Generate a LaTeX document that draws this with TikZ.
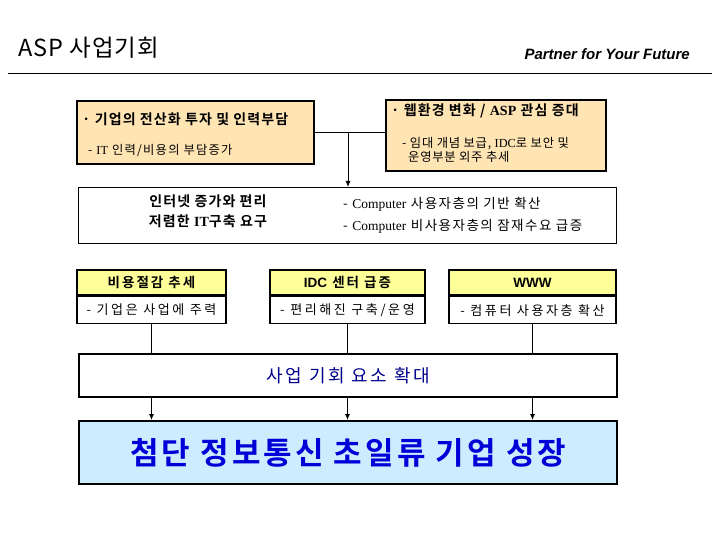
\documentclass[tikz,border=0pt]{standalone}
\usepackage{fontspec}
\setmainfont{Noto Sans CJK KR}[BoldFont={Noto Sans CJK KR Bold}]
\newfontfamily\serifpart{Liberation Serif}
\newfontfamily\arialpart{Liberation Sans}
\newcommand{\krsize}[2]{\fontsize{#1}{#1}\selectfont\addfontfeature{LetterSpace=#2}}
\definecolor{asppeach}{RGB}{255,228,180}
\definecolor{aspyellow}{RGB}{255,255,153}
\definecolor{aspsky}{RGB}{204,236,255}
\definecolor{aspnavy}{RGB}{0,0,140}
\definecolor{aspblue}{RGB}{0,0,215}
\usetikzlibrary{positioning, arrows.meta}

\tikzset{
  issuebox/.style={draw, line width=2.4pt, fill=asppeach, anchor=north west},
  infobox/.style={draw, line width=0.8pt, fill=white, anchor=north west},
  trendhead/.style={draw, line width=1.6pt, fill=aspyellow, minimum width=149pt, minimum height=25pt,
    font={\bfseries\krsize{13.5}{15}}},
  trendbody/.style={draw, line width=1.6pt, fill=white, minimum width=149pt, minimum height=27pt,
    font={\krsize{13}{20}}},
  bigbox/.style={draw, line width=2.4pt, anchor=north west, minimum width=538pt},
  link/.style={line width=0.7pt},
  arrowlink/.style={line width=0.9pt, -{Latex[length=6pt,width=5pt]}}
}

\begin{document}
\begin{tikzpicture}[x=1pt, y=-1pt, every node/.style={inner sep=0pt}]
  \useasboundingbox (0,0) rectangle (720,540);

  % header
  \node[anchor=base west, font={\krsize{23.5}{4}}] (title) at (18,57) {ASP 사업기회};
  \node[anchor=base east, font=\arialpart\bfseries\itshape\fontsize{15}{17}\selectfont] (motto) at (690,60) {Partner for Your Future};
  \draw[line width=0.8pt] (8,73) -- (712,73);

  % issue boxes
  \node[issuebox, minimum width=237pt, minimum height=63pt] (cost) at (76,100) {};
  \node[anchor=base west, font={\bfseries\krsize{14}{8}}] (costhd) at (82,125) {· 기업의 전산화 투자 및 인력부담};
  \node[anchor=base west, font={\krsize{12.3}{10}}] (costtx) at (88,155) {- {\serifpart IT} 인력/비용의 부담증가};

  \node[issuebox, minimum width=220pt, minimum height=71pt] (web) at (385,99) {};
  \node[anchor=base west, font={\bfseries\krsize{14}{8}}] (webhd) at (391,116) {· 웹환경 변화 / {\serifpart ASP} 관심 증대};
  \node[anchor=base west, font={\krsize{12.3}{6}}] (webtx1) at (402,148) {- 임대 개념 보급, {\serifpart IDC}로 보안 및};
  \node[anchor=base west, font={\krsize{12.3}{6}}] (webtx2) at (408,162) {운영부분 외주 추세};

  \coordinate (join) at (348,132);
  \draw[link] (cost.east |- join) -- (web.west |- join);

  % internet box
  \node[infobox, minimum width=538pt, minimum height=56pt] (info) at (78,187) {};
  \node[font={\bfseries\krsize{14}{8}}] (infohd1) at (208,201) {인터넷 증가와 편리};
  \node[font={\bfseries\krsize{14}{8}}] (infohd2) at (208,221) {저렴한 {\serifpart IT}구축 요구};
  \node[anchor=base west, font={\krsize{13.5}{11}}] (infotx1) at (343,208) {- {\serifpart Computer} 사용자층의 기반 확산};
  \node[anchor=base west, font={\krsize{13.5}{11}}] (infotx2) at (343,230) {- {\serifpart Computer} 비사용자층의 잠재수요 급증};
  \draw[arrowlink] (join) -- (join |- info.north);

  % trends
  \node[trendhead] (saving) at (151.5,282.5) {비용절감 추세};
  \node[trendbody, below=0pt of saving] (savingtx) {- 기업은 사업에 주력};
  \node[trendhead, minimum width=155pt] (idc) at (347.5,282.5) {{\arialpart\bfseries IDC} 센터 급증};
  \node[trendbody, minimum width=155pt, below=0pt of idc] (idctx) {- 편리해진 구축/운영};
  \node[trendhead, minimum width=167pt] (www) at (532.5,282.5) {{\arialpart\bfseries WWW}};
  \node[trendbody, minimum width=167pt, below=0pt of www] (wwwtx) {- 컴퓨터 사용자층 확산};

  % result boxes
  \node[bigbox, fill=white, minimum height=43pt, font={\krsize{18}{15}}, text=aspnavy] (grow) at (78,353) {사업 기회 요소 확대};
  \node[bigbox, fill=aspsky, minimum height=63pt, font={\bfseries\krsize{31}{10}}, text=aspblue] (goal) at (78,420) {첨단 정보통신 초일류 기업 성장};

  \foreach \src in {savingtx, idctx, wwwtx} {
    \draw[link] (\src.south) -- (\src.south |- grow.north);
    \draw[arrowlink] (\src.south |- grow.south) -- (\src.south |- goal.north);
  }
\end{tikzpicture}
\end{document}
